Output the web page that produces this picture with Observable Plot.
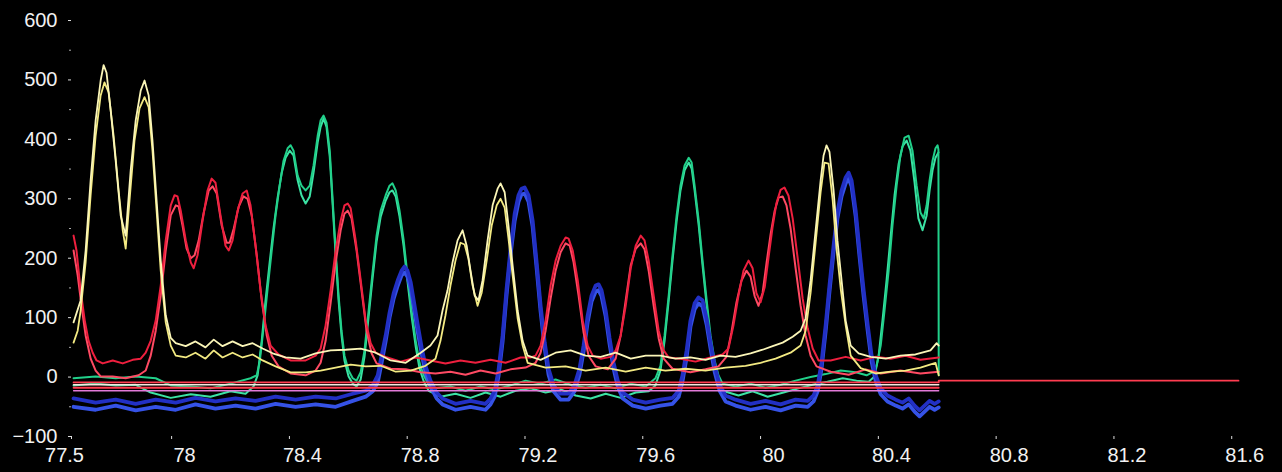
<!DOCTYPE html>
<html>
<head>
<meta charset="utf-8">
<script src="https://cdn.jsdelivr.net/npm/d3@7"></script>
<script src="https://cdn.jsdelivr.net/npm/@observablehq/plot@0.6"></script>
<style>
  html, body { margin: 0; padding: 0; background: #000; }
  #chart svg { display: block; }
</style>
</head>
<body>
<div id="chart"></div>
<script>
// ---- Data ----
const xTickValues = [77.66, 78, 78.4, 78.8, 79.2, 79.6, 80, 80.4, 80.8, 81.2, 81.6];
const xTickLabels = ["77.5", "78", "78.4", "78.8", "79.2", "79.6", "80", "80.4", "80.8", "81.2", "81.6"];
const yTickValues = [-100, 0, 100, 200, 300, 400, 500, 600];
const yMinorTicks = [-50, 50, 150, 250, 350, 450, 550];

const yellowA = [[77.667,92],[77.691,129],[77.708,213],[77.725,331],[77.742,432],[77.759,499],[77.769,525],[77.779,512],[77.793,449],[77.810,364],[77.827,272],[77.844,238],[77.861,348],[77.878,432],[77.895,482],[77.908,499],[77.922,474],[77.935,398],[77.949,297],[77.963,196],[77.980,104],[77.997,66],[78.014,57],[78.048,52],[78.081,60],[78.115,50],[78.143,63],[78.173,52],[78.207,60],[78.241,52],[78.275,57],[78.309,48],[78.343,40],[78.387,33],[78.438,31],[78.489,40],[78.540,45],[78.591,46],[78.642,48],[78.693,41],[78.744,28],[78.795,24],[78.846,41],[78.879,53],[78.903,70],[78.920,112],[78.937,146],[78.954,193],[78.971,230],[78.988,247],[79.002,221],[79.015,179],[79.029,137],[79.042,129],[79.056,163],[79.073,230],[79.090,289],[79.107,317],[79.117,326],[79.131,311],[79.144,255],[79.158,188],[79.175,112],[79.192,61],[79.209,36],[79.253,29],[79.304,41],[79.355,45],[79.406,36],[79.457,34],[79.508,41],[79.559,31],[79.610,36],[79.660,36],[79.711,31],[79.762,33],[79.813,29],[79.864,36],[79.915,34],[79.966,40],[80.007,46],[80.041,52],[80.075,58],[80.109,68],[80.136,78],[80.153,99],[80.170,163],[80.187,247],[80.204,331],[80.214,373],[80.224,390],[80.234,379],[80.248,314],[80.261,230],[80.275,163],[80.289,95],[80.306,53],[80.333,40],[80.374,34],[80.425,31],[80.475,36],[80.526,38],[80.577,45],[80.598,57],[80.605,53]];

const yellowB = [[77.667,58],[77.681,78],[77.691,112],[77.708,193],[77.725,306],[77.742,406],[77.759,474],[77.772,496],[77.786,479],[77.803,406],[77.820,314],[77.834,247],[77.844,216],[77.857,297],[77.874,398],[77.891,452],[77.908,471],[77.922,454],[77.935,381],[77.949,280],[77.963,179],[77.980,92],[77.997,53],[78.014,36],[78.048,33],[78.081,41],[78.115,31],[78.143,45],[78.173,33],[78.207,41],[78.241,33],[78.275,38],[78.309,28],[78.353,18],[78.404,8],[78.455,8],[78.506,11],[78.557,16],[78.608,21],[78.659,18],[78.710,19],[78.761,9],[78.812,11],[78.862,19],[78.896,31],[78.913,61],[78.930,104],[78.947,154],[78.964,196],[78.981,226],[78.995,223],[79.008,199],[79.022,154],[79.039,120],[79.053,142],[79.070,196],[79.087,255],[79.104,289],[79.117,300],[79.131,285],[79.144,233],[79.158,171],[79.175,99],[79.192,53],[79.209,24],[79.270,16],[79.338,18],[79.406,11],[79.474,16],[79.542,9],[79.610,16],[79.677,11],[79.745,14],[79.813,11],[79.881,16],[79.949,19],[80.000,24],[80.051,31],[80.102,41],[80.136,53],[80.153,78],[80.170,142],[80.187,226],[80.204,311],[80.217,361],[80.231,359],[80.245,297],[80.258,216],[80.272,149],[80.289,87],[80.306,36],[80.340,15],[80.391,6],[80.442,9],[80.492,11],[80.543,16],[80.594,24],[80.605,3]];

const redA = [[77.667,238],[77.677,213],[77.691,146],[77.705,95],[77.718,61],[77.732,41],[77.745,28],[77.766,23],[77.800,28],[77.834,23],[77.868,29],[77.895,31],[77.912,41],[77.929,61],[77.946,95],[77.963,154],[77.980,230],[77.997,289],[78.010,306],[78.020,304],[78.031,280],[78.048,230],[78.065,193],[78.075,183],[78.088,205],[78.105,263],[78.122,314],[78.136,334],[78.149,327],[78.166,272],[78.183,221],[78.194,213],[78.207,230],[78.224,280],[78.241,309],[78.255,314],[78.268,289],[78.285,221],[78.302,146],[78.319,87],[78.336,53],[78.363,38],[78.404,28],[78.455,28],[78.489,36],[78.506,48],[78.523,87],[78.540,146],[78.557,213],[78.574,263],[78.587,289],[78.598,292],[78.608,284],[78.625,230],[78.642,163],[78.659,95],[78.676,57],[78.693,41],[78.727,34],[78.778,26],[78.829,33],[78.879,28],[78.930,23],[78.981,28],[79.032,24],[79.083,29],[79.134,24],[79.185,33],[79.219,33],[79.236,36],[79.253,53],[79.270,95],[79.287,154],[79.304,196],[79.321,221],[79.338,235],[79.348,233],[79.362,213],[79.379,163],[79.396,95],[79.413,53],[79.430,36],[79.457,31],[79.491,34],[79.508,45],[79.525,70],[79.542,120],[79.559,183],[79.576,221],[79.593,238],[79.606,230],[79.620,196],[79.637,137],[79.654,78],[79.671,45],[79.688,33],[79.728,31],[79.779,26],[79.830,33],[79.871,38],[79.891,48],[79.908,87],[79.925,137],[79.942,179],[79.959,196],[79.973,183],[79.986,141],[80.000,126],[80.014,151],[80.027,201],[80.041,253],[80.054,293],[80.068,315],[80.081,319],[80.095,305],[80.109,267],[80.126,200],[80.143,132],[80.160,82],[80.177,48],[80.197,28],[80.238,28],[80.289,34],[80.340,28],[80.391,34],[80.442,31],[80.492,36],[80.543,29],[80.605,33]];

const redB = [[77.667,213],[77.681,171],[77.694,120],[77.708,70],[77.725,31],[77.742,11],[77.759,1],[77.800,1],[77.844,-2],[77.888,3],[77.912,11],[77.929,36],[77.946,78],[77.963,137],[77.980,213],[77.997,272],[78.014,289],[78.024,287],[78.037,255],[78.051,216],[78.065,200],[78.078,205],[78.092,230],[78.109,277],[78.126,314],[78.139,321],[78.153,309],[78.170,255],[78.187,226],[78.197,226],[78.211,250],[78.228,287],[78.244,304],[78.258,300],[78.272,272],[78.289,205],[78.306,129],[78.323,70],[78.340,36],[78.363,18],[78.404,6],[78.455,3],[78.489,11],[78.506,24],[78.523,61],[78.540,125],[78.557,193],[78.574,247],[78.587,275],[78.598,280],[78.611,267],[78.628,213],[78.645,146],[78.662,78],[78.679,40],[78.696,23],[78.744,14],[78.795,13],[78.846,8],[78.896,6],[78.947,9],[78.998,4],[79.049,11],[79.100,6],[79.151,13],[79.202,16],[79.236,24],[79.253,41],[79.270,78],[79.287,132],[79.304,179],[79.321,210],[79.338,225],[79.352,221],[79.365,193],[79.382,137],[79.399,75],[79.416,36],[79.440,18],[79.481,13],[79.508,31],[79.525,70],[79.542,129],[79.559,188],[79.576,216],[79.593,225],[79.606,215],[79.620,179],[79.637,120],[79.654,65],[79.671,31],[79.701,14],[79.762,8],[79.813,13],[79.857,18],[79.884,34],[79.901,75],[79.918,125],[79.935,162],[79.952,179],[79.966,169],[79.980,136],[79.993,120],[80.007,142],[80.020,191],[80.034,240],[80.048,280],[80.061,302],[80.075,304],[80.088,289],[80.102,250],[80.119,183],[80.136,120],[80.153,70],[80.170,36],[80.190,18],[80.238,9],[80.299,4],[80.357,13],[80.408,6],[80.475,11],[80.543,6],[80.605,9]];

const greenA = [[77.667,-2],[77.742,1],[77.810,-2],[77.878,1],[77.946,-2],[77.997,-14],[78.065,-16],[78.132,-19],[78.200,-11],[78.268,-2],[78.289,3],[78.299,25],[78.312,82],[78.326,149],[78.340,213],[78.353,272],[78.367,322],[78.380,364],[78.394,385],[78.404,390],[78.414,381],[78.428,339],[78.441,322],[78.455,314],[78.469,322],[78.482,356],[78.496,406],[78.506,432],[78.516,440],[78.526,428],[78.537,381],[78.547,297],[78.557,213],[78.567,137],[78.577,78],[78.587,36],[78.601,11],[78.615,-2],[78.628,-6],[78.642,8],[78.655,45],[78.669,112],[78.683,179],[78.696,238],[78.710,280],[78.727,306],[78.740,322],[78.750,326],[78.761,314],[78.774,280],[78.788,230],[78.801,171],[78.815,112],[78.829,61],[78.842,24],[78.856,3],[78.873,-13],[78.896,-19],[78.947,-16],[78.998,-23],[79.049,-16],[79.100,-21],[79.151,-14],[79.202,-6],[79.253,-11],[79.304,-4],[79.355,-13],[79.406,-18],[79.457,-13],[79.508,-19],[79.559,-11],[79.610,-16],[79.643,-2],[79.660,19],[79.674,70],[79.688,137],[79.701,205],[79.715,272],[79.728,322],[79.742,356],[79.756,369],[79.766,361],[79.776,322],[79.790,263],[79.803,196],[79.817,129],[79.830,70],[79.844,28],[79.857,3],[79.871,-11],[79.915,-16],[79.966,-11],[80.017,-18],[80.068,-13],[80.119,-6],[80.170,0],[80.221,5],[80.272,11],[80.323,8],[80.360,3],[80.380,8],[80.394,19],[80.408,53],[80.421,112],[80.435,179],[80.448,255],[80.462,322],[80.475,373],[80.489,403],[80.503,406],[80.516,381],[80.530,322],[80.543,277],[80.554,267],[80.564,289],[80.574,331],[80.584,364],[80.594,385],[80.601,390],[80.604,383],[80.605,3]];

const greenB = [[77.667,-14],[77.742,-11],[77.810,-14],[77.878,-13],[77.929,-26],[77.997,-35],[78.065,-29],[78.132,-33],[78.200,-24],[78.251,-28],[78.278,-16],[78.292,3],[78.306,61],[78.319,129],[78.333,193],[78.346,250],[78.360,302],[78.374,344],[78.387,369],[78.401,381],[78.414,373],[78.428,331],[78.441,306],[78.455,292],[78.469,304],[78.482,344],[78.496,395],[78.506,421],[78.516,435],[78.526,421],[78.537,371],[78.547,289],[78.557,205],[78.567,129],[78.577,70],[78.587,28],[78.601,1],[78.615,-11],[78.628,-16],[78.642,-4],[78.655,34],[78.669,102],[78.683,169],[78.696,228],[78.710,270],[78.727,297],[78.740,311],[78.750,314],[78.761,304],[78.774,270],[78.788,220],[78.801,161],[78.815,102],[78.829,51],[78.842,14],[78.856,-7],[78.873,-23],[78.913,-33],[78.964,-28],[79.015,-35],[79.066,-26],[79.117,-33],[79.168,-23],[79.219,-19],[79.270,-26],[79.321,-21],[79.372,-31],[79.423,-36],[79.474,-28],[79.525,-35],[79.576,-26],[79.620,-24],[79.643,-14],[79.660,11],[79.674,61],[79.688,129],[79.701,196],[79.715,263],[79.728,314],[79.742,348],[79.756,361],[79.766,351],[79.776,314],[79.790,255],[79.803,188],[79.817,120],[79.830,61],[79.844,19],[79.857,-6],[79.871,-23],[79.925,-31],[79.973,-24],[80.024,-33],[80.078,-26],[80.129,-19],[80.177,-13],[80.227,-8],[80.279,-2],[80.326,-6],[80.367,-8],[80.387,1],[80.401,36],[80.414,95],[80.428,163],[80.442,238],[80.455,306],[80.469,359],[80.482,388],[80.496,398],[80.509,381],[80.523,327],[80.536,267],[80.550,247],[80.564,272],[80.574,314],[80.584,348],[80.594,369],[80.604,378]];

const blueA = [[77.667,-36],[77.742,-43],[77.810,-38],[77.878,-45],[77.946,-38],[78.014,-43],[78.081,-35],[78.149,-41],[78.217,-36],[78.285,-40],[78.353,-33],[78.421,-38],[78.489,-33],[78.557,-36],[78.615,-28],[78.659,-23],[78.683,-14],[78.700,3],[78.713,36],[78.727,70],[78.740,108],[78.754,141],[78.768,163],[78.781,179],[78.791,186],[78.801,179],[78.812,159],[78.822,129],[78.835,90],[78.849,50],[78.862,19],[78.879,-6],[78.900,-26],[78.920,-36],[78.964,-45],[79.015,-40],[79.066,-45],[79.083,-36],[79.097,-23],[79.110,11],[79.124,70],[79.137,146],[79.151,216],[79.165,275],[79.178,306],[79.188,317],[79.199,319],[79.212,306],[79.226,263],[79.239,196],[79.253,120],[79.267,58],[79.280,14],[79.297,-14],[79.321,-28],[79.348,-28],[79.368,-14],[79.385,14],[79.399,53],[79.413,104],[79.426,137],[79.440,154],[79.450,156],[79.460,146],[79.474,112],[79.487,66],[79.501,24],[79.515,-6],[79.532,-26],[79.566,-38],[79.610,-43],[79.660,-38],[79.701,-35],[79.722,-23],[79.735,3],[79.749,45],[79.762,95],[79.776,124],[79.789,134],[79.803,129],[79.817,98],[79.830,58],[79.844,19],[79.861,-13],[79.881,-31],[79.915,-38],[79.966,-45],[80.017,-40],[80.068,-46],[80.119,-38],[80.160,-40],[80.180,-31],[80.194,-14],[80.207,24],[80.221,87],[80.234,154],[80.248,221],[80.261,277],[80.275,314],[80.289,336],[80.299,344],[80.309,331],[80.323,280],[80.336,213],[80.350,146],[80.364,87],[80.377,36],[80.391,3],[80.408,-19],[80.431,-31],[80.459,-38],[80.482,-43],[80.503,-36],[80.523,-48],[80.540,-56],[80.557,-48],[80.574,-40],[80.591,-45],[80.605,-41]];

const blueB = [[77.667,-50],[77.742,-55],[77.810,-48],[77.878,-56],[77.946,-50],[78.014,-55],[78.081,-46],[78.149,-53],[78.217,-48],[78.285,-53],[78.353,-45],[78.421,-50],[78.489,-46],[78.557,-50],[78.615,-40],[78.659,-33],[78.683,-24],[78.700,-9],[78.713,24],[78.727,61],[78.740,100],[78.754,132],[78.768,154],[78.781,171],[78.791,176],[78.801,169],[78.812,149],[78.822,119],[78.835,78],[78.849,40],[78.862,8],[78.879,-16],[78.900,-36],[78.920,-46],[78.964,-55],[79.015,-50],[79.066,-55],[79.083,-46],[79.097,-33],[79.110,1],[79.124,60],[79.137,136],[79.151,206],[79.165,263],[79.178,295],[79.188,307],[79.199,309],[79.212,295],[79.226,253],[79.239,186],[79.253,110],[79.267,48],[79.280,4],[79.297,-24],[79.321,-38],[79.348,-38],[79.368,-24],[79.385,4],[79.399,43],[79.413,93],[79.426,127],[79.440,144],[79.450,146],[79.460,136],[79.474,102],[79.487,56],[79.501,14],[79.515,-16],[79.532,-36],[79.566,-48],[79.610,-53],[79.660,-48],[79.701,-45],[79.722,-33],[79.735,-7],[79.749,34],[79.762,85],[79.776,114],[79.789,124],[79.803,119],[79.817,88],[79.830,48],[79.844,9],[79.861,-23],[79.881,-41],[79.915,-48],[79.966,-55],[80.017,-50],[80.068,-56],[80.119,-48],[80.160,-50],[80.180,-41],[80.194,-24],[80.207,14],[80.221,77],[80.234,144],[80.248,211],[80.261,267],[80.275,304],[80.289,326],[80.299,334],[80.309,321],[80.323,270],[80.336,203],[80.350,136],[80.364,77],[80.377,26],[80.391,-7],[80.408,-29],[80.431,-41],[80.459,-48],[80.482,-53],[80.503,-46],[80.523,-58],[80.540,-66],[80.557,-58],[80.574,-50],[80.591,-55],[80.605,-51]];

// flat reference traces
const flatStart = 77.667, flatEnd = 80.605, tailEnd = 81.623;
const flatRed1 = -9, flatWhite = -13, flatRed2 = -18, flatPink = -23, tailLevel = -6;

// ---- Drawing ----
const xy = {x: d => d[0], y: d => d[1]};
const flat = (v) => [[flatStart, v], [flatEnd, v]];
const tail = [[flatStart, flatRed1], [flatEnd, flatRed1], [flatEnd, tailLevel], [tailEnd, tailLevel]];
const labelOf = new Map(xTickValues.map((v, i) => [v, xTickLabels[i]]));

const chart = Plot.plot({
  width: 1282,
  height: 472,
  marginLeft: 71,
  marginRight: 44,
  marginTop: 20,
  marginBottom: 36,
  style: {background: "#000", color: "#f2f2f2", fontFamily: "'Liberation Sans', Arial, Helvetica, sans-serif", fontSize: "20px"},
  x: {domain: [77.66, 81.623]},
  y: {domain: [-100, 600]},
  marks: [
    Plot.line(greenB, {...xy, stroke: "#3be3a4", strokeWidth: 2}),
    Plot.line(greenA, {...xy, stroke: "#21d08a", strokeWidth: 2}),
    Plot.line(blueB, {...xy, stroke: "#3552e6", strokeWidth: 3.8}),
    Plot.line(blueA, {...xy, stroke: "#2230c4", strokeWidth: 3.8}),
    Plot.line(flat(flatPink), {...xy, stroke: "#e27ad8", strokeWidth: 1.3}),
    Plot.line(flat(flatRed2), {...xy, stroke: "#ff3a4e", strokeWidth: 1.8}),
    Plot.line(flat(flatWhite), {...xy, stroke: "#fbe9e0", strokeWidth: 1.5}),
    Plot.line(tail, {...xy, stroke: "#ff3c50", strokeWidth: 1.8}),
    Plot.line(redB, {...xy, stroke: "#ff4a63", strokeWidth: 2}),
    Plot.line(redA, {...xy, stroke: "#ee1f3e", strokeWidth: 2}),
    Plot.line(yellowB, {...xy, stroke: "#f3ea82", strokeWidth: 1.8}),
    Plot.line(yellowA, {...xy, stroke: "#fbf6b8", strokeWidth: 1.8}),
    Plot.axisY(yTickValues, {tickSize: 3, tickPadding: 11, stroke: "#dddddd", fill: "#f2f2f2", fontSize: 20, label: null}),
    Plot.axisY(yMinorTicks, {tickSize: 2, tickFormat: () => "", stroke: "#aaaaaa", label: null}),
    Plot.axisX(xTickValues, {tickSize: 3, tickFormat: () => "", stroke: "#dddddd", label: null}),
    Plot.axisX(xTickValues.slice(0, 1), {tickSize: 0, tickPadding: 11, dx: -7, tickFormat: d => labelOf.get(d), fill: "#f2f2f2", fontSize: 20, label: null}),
    Plot.axisX(xTickValues.slice(1), {tickSize: 0, tickPadding: 11, dx: 13, tickFormat: d => labelOf.get(d), fill: "#f2f2f2", fontSize: 20, label: null})
  ]
});
document.getElementById("chart").appendChild(chart);
</script>
</body>
</html>
